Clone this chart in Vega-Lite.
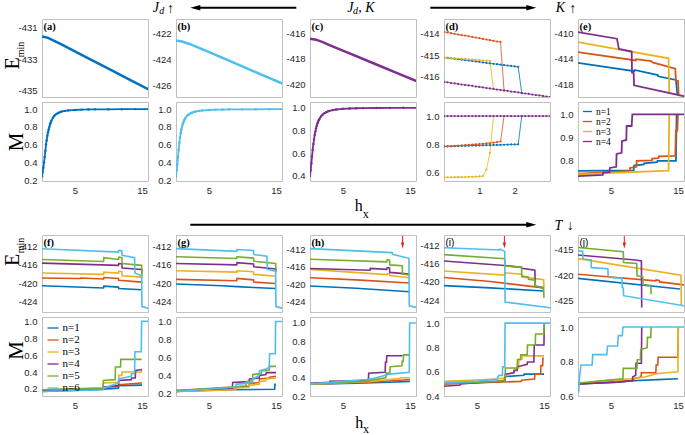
{
"$schema":"https://vega.github.io/schema/vega-lite/v6.json",
"padding":0,
"background":"white",
"columns":5,
"spacing":{"row":5,"column":28},
"bounds":"flush",
"align":"each",
"resolve":{"scale":{"x":"independent","y":"independent","color":"independent"},"axis":{"x":"independent","y":"independent"},"legend":{"color":"independent"}},
"config":{
 "locale":{"number":{"decimal":".","thousands":",","grouping":[3],"currency":["$",""],"minus":"-"}},
 "view":{"stroke":"#c0c0c0","strokeWidth":1},
 "axis":{"grid":false,"domain":false,"ticks":false,"labelFont":"Liberation Sans","labelFontSize":9.5,"labelColor":"#262626","labelPadding":4,"labelFlush":false,"labelOverlap":false,"titleFont":"Liberation Serif","titleFontWeight":"normal","titleColor":"#000000"},
 "axisY":{"labelPadding":5},
 "range":{"category":["#0072BD","#D95319","#EDB120","#7E2F8E","#77AC30","#4DBEEE"]},
 "text":{"font":"Liberation Serif","color":"#000000"}
},
"datasets":{
"aE":[{"x":0.1,"y":-431.55},{"x":1,"y":-431.65},{"x":2,"y":-431.85},{"x":3,"y":-432.07},{"x":6,"y":-432.73},{"x":10,"y":-433.62},{"x":13,"y":-434.29},{"x":16,"y":-434.95}],
"bE":[{"x":0.1,"y":-422.55},{"x":1,"y":-422.63},{"x":2,"y":-422.8},{"x":3,"y":-423.0},{"x":6,"y":-423.66},{"x":10,"y":-424.55},{"x":13,"y":-425.22},{"x":16,"y":-425.88}],
"cE":[{"x":0.1,"y":-416.42},{"x":1,"y":-416.5},{"x":2,"y":-416.7},{"x":3,"y":-416.93},{"x":6,"y":-417.58},{"x":10,"y":-418.45},{"x":13,"y":-419.1},{"x":16,"y":-419.76}],
"aM":[{"x":0.1,"y":0.24},{"x":0.2,"y":0.29},{"x":0.3,"y":0.34},{"x":0.4,"y":0.40},{"x":0.5,"y":0.46},{"x":0.6,"y":0.53},{"x":0.7,"y":0.60},{"x":0.8,"y":0.65},{"x":0.9,"y":0.70},{"x":1.0,"y":0.74},{"x":1.1,"y":0.77},{"x":1.2,"y":0.80},{"x":1.3,"y":0.83},{"x":1.4,"y":0.85},{"x":1.5,"y":0.87},{"x":1.75,"y":0.905},{"x":2.0,"y":0.93},{"x":2.25,"y":0.945},{"x":2.5,"y":0.955},{"x":2.75,"y":0.965},{"x":3,"y":0.972},{"x":3.5,"y":0.98},{"x":4,"y":0.985},{"x":5,"y":0.99},{"x":6,"y":0.994},{"x":7,"y":0.996},{"x":8,"y":0.997},{"x":10,"y":0.998},{"x":12,"y":0.999},{"x":14,"y":1.0},{"x":16,"y":1.0}],
"bM":[{"x":0.1,"y":0.24},{"x":0.2,"y":0.31},{"x":0.3,"y":0.38},{"x":0.4,"y":0.46},{"x":0.5,"y":0.54},{"x":0.6,"y":0.62},{"x":0.7,"y":0.68},{"x":0.8,"y":0.73},{"x":0.9,"y":0.77},{"x":1.0,"y":0.80},{"x":1.1,"y":0.83},{"x":1.2,"y":0.85},{"x":1.3,"y":0.87},{"x":1.4,"y":0.885},{"x":1.5,"y":0.90},{"x":1.75,"y":0.925},{"x":2.0,"y":0.94},{"x":2.25,"y":0.952},{"x":2.5,"y":0.96},{"x":2.75,"y":0.967},{"x":3,"y":0.972},{"x":3.5,"y":0.979},{"x":4,"y":0.984},{"x":5,"y":0.99},{"x":6,"y":0.993},{"x":7,"y":0.995},{"x":8,"y":0.996},{"x":10,"y":0.997},{"x":12,"y":0.998},{"x":14,"y":0.999},{"x":16,"y":0.999}],
"cM":[{"x":0.1,"y":0.40},{"x":0.2,"y":0.45},{"x":0.3,"y":0.51},{"x":0.4,"y":0.57},{"x":0.5,"y":0.63},{"x":0.6,"y":0.68},{"x":0.7,"y":0.72},{"x":0.8,"y":0.76},{"x":0.9,"y":0.79},{"x":1.0,"y":0.82},{"x":1.1,"y":0.84},{"x":1.2,"y":0.86},{"x":1.3,"y":0.875},{"x":1.4,"y":0.89},{"x":1.5,"y":0.90},{"x":1.75,"y":0.925},{"x":2.0,"y":0.94},{"x":2.25,"y":0.952},{"x":2.5,"y":0.96},{"x":2.75,"y":0.967},{"x":3,"y":0.972},{"x":3.5,"y":0.979},{"x":4,"y":0.984},{"x":5,"y":0.99},{"x":6,"y":0.993},{"x":7,"y":0.995},{"x":8,"y":0.996},{"x":10,"y":0.997},{"x":12,"y":0.998},{"x":14,"y":0.999},{"x":16,"y":0.999}],
"dE":[
{"x":0,"y":-415.11,"n":1},{"x":0.1,"y":-415.13,"n":1},{"x":0.2,"y":-415.15,"n":1},{"x":0.3,"y":-415.17,"n":1},{"x":0.4,"y":-415.19,"n":1},{"x":0.5,"y":-415.21,"n":1},{"x":0.6,"y":-415.23,"n":1},{"x":0.7,"y":-415.25,"n":1},{"x":0.8,"y":-415.27,"n":1},{"x":0.9,"y":-415.29,"n":1},{"x":1.0,"y":-415.31,"n":1},{"x":1.1,"y":-415.34,"n":1},{"x":1.2,"y":-415.36,"n":1},{"x":1.3,"y":-415.38,"n":1},{"x":1.4,"y":-415.40,"n":1},{"x":1.5,"y":-415.42,"n":1},{"x":1.6,"y":-415.44,"n":1},{"x":1.7,"y":-415.46,"n":1},{"x":1.8,"y":-415.48,"n":1},{"x":1.9,"y":-415.5,"n":1},{"x":2.0,"y":-415.52,"n":1},{"x":2.1,"y":-415.54,"n":1},{"x":2.2,"y":-416.74,"n":1},
{"x":0,"y":-413.94,"n":2},{"x":0.1,"y":-413.97,"n":2},{"x":0.2,"y":-414.0,"n":2},{"x":0.3,"y":-414.03,"n":2},{"x":0.4,"y":-414.06,"n":2},{"x":0.5,"y":-414.09,"n":2},{"x":0.6,"y":-414.11,"n":2},{"x":0.7,"y":-414.14,"n":2},{"x":0.8,"y":-414.17,"n":2},{"x":0.9,"y":-414.2,"n":2},{"x":1.0,"y":-414.23,"n":2},{"x":1.1,"y":-414.26,"n":2},{"x":1.2,"y":-414.29,"n":2},{"x":1.3,"y":-414.32,"n":2},{"x":1.4,"y":-414.35,"n":2},{"x":1.5,"y":-414.38,"n":2},{"x":1.6,"y":-414.4,"n":2},{"x":1.7,"y":-416.62,"n":2},
{"x":0,"y":-415.11,"n":3},{"x":0.1,"y":-415.12,"n":3},{"x":0.2,"y":-415.13,"n":3},{"x":0.3,"y":-415.15,"n":3},{"x":0.4,"y":-415.16,"n":3},{"x":0.5,"y":-415.17,"n":3},{"x":0.6,"y":-415.18,"n":3},{"x":0.7,"y":-415.2,"n":3},{"x":0.8,"y":-415.21,"n":3},{"x":0.9,"y":-415.22,"n":3},{"x":1.0,"y":-415.23,"n":3},{"x":1.1,"y":-415.25,"n":3},{"x":1.2,"y":-415.26,"n":3},{"x":1.3,"y":-415.27,"n":3},{"x":1.4,"y":-416.55,"n":3},
{"x":0,"y":-416.23,"n":4},{"x":0.1,"y":-416.25,"n":4},{"x":0.2,"y":-416.28,"n":4},{"x":0.3,"y":-416.3,"n":4},{"x":0.4,"y":-416.32,"n":4},{"x":0.5,"y":-416.35,"n":4},{"x":0.6,"y":-416.37,"n":4},{"x":0.7,"y":-416.39,"n":4},{"x":0.8,"y":-416.41,"n":4},{"x":0.9,"y":-416.44,"n":4},{"x":1.0,"y":-416.46,"n":4},{"x":1.1,"y":-416.48,"n":4},{"x":1.2,"y":-416.51,"n":4},{"x":1.3,"y":-416.53,"n":4},{"x":1.4,"y":-416.55,"n":4},{"x":1.5,"y":-416.58,"n":4},{"x":1.6,"y":-416.6,"n":4},{"x":1.7,"y":-416.62,"n":4},{"x":1.8,"y":-416.64,"n":4},{"x":1.9,"y":-416.67,"n":4},{"x":2.0,"y":-416.69,"n":4},{"x":2.1,"y":-416.71,"n":4},{"x":2.2,"y":-416.74,"n":4},{"x":2.3,"y":-416.76,"n":4},{"x":2.4,"y":-416.78,"n":4},{"x":2.5,"y":-416.81,"n":4},{"x":2.6,"y":-416.83,"n":4},{"x":2.7,"y":-416.85,"n":4},{"x":2.8,"y":-416.87,"n":4},{"x":2.9,"y":-416.9,"n":4},{"x":3.0,"y":-416.92,"n":4}],
"dM":[
{"x":0,"y":0.785,"n":1},{"x":0.1,"y":0.786,"n":1},{"x":0.2,"y":0.786,"n":1},{"x":0.3,"y":0.787,"n":1},{"x":0.4,"y":0.788,"n":1},{"x":0.5,"y":0.789,"n":1},{"x":0.6,"y":0.789,"n":1},{"x":0.7,"y":0.79,"n":1},{"x":0.8,"y":0.791,"n":1},{"x":0.9,"y":0.791,"n":1},{"x":1.0,"y":0.792,"n":1},{"x":1.1,"y":0.793,"n":1},{"x":1.2,"y":0.794,"n":1},{"x":1.3,"y":0.794,"n":1},{"x":1.4,"y":0.795,"n":1},{"x":1.5,"y":0.796,"n":1},{"x":1.6,"y":0.796,"n":1},{"x":1.7,"y":0.797,"n":1},{"x":1.8,"y":0.798,"n":1},{"x":1.9,"y":0.799,"n":1},{"x":2.0,"y":0.799,"n":1},{"x":2.1,"y":0.80,"n":1},{"x":2.2,"y":1.0,"n":1},
{"x":0,"y":0.785,"n":2},{"x":0.1,"y":0.786,"n":2},{"x":0.2,"y":0.787,"n":2},{"x":0.3,"y":0.789,"n":2},{"x":0.4,"y":0.79,"n":2},{"x":0.5,"y":0.792,"n":2},{"x":0.6,"y":0.794,"n":2},{"x":0.7,"y":0.796,"n":2},{"x":0.8,"y":0.798,"n":2},{"x":0.9,"y":0.80,"n":2},{"x":1.0,"y":0.802,"n":2},{"x":1.1,"y":0.804,"n":2},{"x":1.2,"y":0.806,"n":2},{"x":1.3,"y":0.809,"n":2},{"x":1.4,"y":0.812,"n":2},{"x":1.5,"y":0.816,"n":2},{"x":1.6,"y":0.82,"n":2},{"x":1.7,"y":1.0,"n":2},
{"x":0,"y":0.565,"n":3},{"x":0.1,"y":0.566,"n":3},{"x":0.2,"y":0.566,"n":3},{"x":0.3,"y":0.567,"n":3},{"x":0.4,"y":0.567,"n":3},{"x":0.5,"y":0.568,"n":3},{"x":0.6,"y":0.568,"n":3},{"x":0.7,"y":0.569,"n":3},{"x":0.8,"y":0.57,"n":3},{"x":0.9,"y":0.571,"n":3},{"x":1.0,"y":0.572,"n":3},{"x":1.1,"y":0.575,"n":3},{"x":1.2,"y":0.62,"n":3},{"x":1.3,"y":0.74,"n":3},{"x":1.4,"y":1.0,"n":3},
{"x":0,"y":1,"n":4},{"x":0.1,"y":1,"n":4},{"x":0.2,"y":1,"n":4},{"x":0.3,"y":1,"n":4},{"x":0.4,"y":1,"n":4},{"x":0.5,"y":1,"n":4},{"x":0.6,"y":1,"n":4},{"x":0.7,"y":1,"n":4},{"x":0.8,"y":1,"n":4},{"x":0.9,"y":1,"n":4},{"x":1.0,"y":1,"n":4},{"x":1.1,"y":1,"n":4},{"x":1.2,"y":1,"n":4},{"x":1.3,"y":1,"n":4},{"x":1.4,"y":1,"n":4},{"x":1.5,"y":1,"n":4},{"x":1.6,"y":1,"n":4},{"x":1.7,"y":1,"n":4},{"x":1.8,"y":1,"n":4},{"x":1.9,"y":1,"n":4},{"x":2.0,"y":1,"n":4},{"x":2.1,"y":1,"n":4},{"x":2.2,"y":1,"n":4},{"x":2.3,"y":1,"n":4},{"x":2.4,"y":1,"n":4},{"x":2.5,"y":1,"n":4},{"x":2.6,"y":1,"n":4},{"x":2.7,"y":1,"n":4},{"x":2.8,"y":1,"n":4},{"x":2.9,"y":1,"n":4},{"x":3.0,"y":1,"n":4}],
"eE":[
{"x":0,"y":-414.66,"n":1},{"x":8.5,"y":-416.0,"n":1},{"x":8.55,"y":-415.8,"n":1},{"x":12,"y":-416.6,"n":1},{"x":12.05,"y":-416.8,"n":1},{"x":14.7,"y":-417.37,"n":1},{"x":14.9,"y":-419.6,"n":1},
{"x":0,"y":-412.98,"n":2},{"x":8.7,"y":-414.3,"n":2},{"x":8.75,"y":-414.1,"n":2},{"x":11,"y":-414.4,"n":2},{"x":11.2,"y":-414.6,"n":2},{"x":14.6,"y":-415.6,"n":2},{"x":14.7,"y":-417.5,"n":2},{"x":15,"y":-417.5,"n":2},{"x":15.1,"y":-419.6,"n":2},
{"x":0,"y":-411.41,"n":3},{"x":13.6,"y":-413.97,"n":3},{"x":13.7,"y":-419.5,"n":3},
{"x":0,"y":-409.84,"n":4},{"x":5.9,"y":-410.89,"n":4},{"x":6.2,"y":-412.5,"n":4},{"x":8.1,"y":-412.9,"n":4},{"x":8.15,"y":-416.2,"n":4},{"x":8.4,"y":-416.3,"n":4},{"x":8.45,"y":-418.2,"n":4},{"x":16,"y":-419.95,"n":4}],
"eM":[
{"x":0,"y":0.757,"n":1},{"x":8.4,"y":0.76,"n":1},{"x":8.45,"y":0.78,"n":1},{"x":9.9,"y":0.785,"n":1},{"x":9.95,"y":0.79,"n":1},{"x":11.9,"y":0.795,"n":1},{"x":11.95,"y":0.80,"n":1},{"x":14.7,"y":0.80,"n":1},{"x":14.8,"y":1.0,"n":1},
{"x":0,"y":0.745,"n":2},{"x":5,"y":0.752,"n":2},{"x":7.8,"y":0.757,"n":2},{"x":7.85,"y":0.77,"n":2},{"x":8.8,"y":0.775,"n":2},{"x":8.85,"y":0.80,"n":2},{"x":11.1,"y":0.802,"n":2},{"x":11.15,"y":0.81,"n":2},{"x":12.1,"y":0.812,"n":2},{"x":12.15,"y":0.82,"n":2},{"x":14.6,"y":0.822,"n":2},{"x":14.7,"y":0.93,"n":2},{"x":14.9,"y":0.93,"n":2},{"x":15,"y":1.0,"n":2},
{"x":0,"y":0.742,"n":3},{"x":13.6,"y":0.758,"n":3},{"x":13.7,"y":1.0,"n":3},
{"x":0,"y":0.735,"n":4},{"x":3.8,"y":0.74,"n":4},{"x":3.85,"y":0.75,"n":4},{"x":4.8,"y":0.752,"n":4},{"x":4.85,"y":0.77,"n":4},{"x":5.8,"y":0.775,"n":4},{"x":5.85,"y":0.83,"n":4},{"x":6.6,"y":0.835,"n":4},{"x":6.65,"y":0.885,"n":4},{"x":7.3,"y":0.89,"n":4},{"x":7.35,"y":0.95,"n":4},{"x":8.1,"y":0.95,"n":4},{"x":8.2,"y":1.0,"n":4},{"x":16,"y":1.0,"n":4}],
"fE":[
{"x":0,"y":-420.6,"n":1},{"x":9.27,"y":-421.1,"n":1},{"x":9.32,"y":-420.7,"n":1},{"x":11.5,"y":-420.9,"n":1},{"x":11.55,"y":-421.2,"n":1},{"x":14.95,"y":-421.5,"n":1},
{"x":0,"y":-418.9,"n":2},{"x":5.8,"y":-419.0,"n":2},{"x":5.85,"y":-418.9,"n":2},{"x":9.27,"y":-419.1,"n":2},{"x":9.32,"y":-418.8,"n":2},{"x":11.5,"y":-419.0,"n":2},{"x":11.55,"y":-419.4,"n":2},{"x":14.95,"y":-419.8,"n":2},{"x":15,"y":-420.1,"n":2},
{"x":0,"y":-417.8,"n":3},{"x":9.27,"y":-418.1,"n":3},{"x":9.32,"y":-417.6,"n":3},{"x":11.5,"y":-417.8,"n":3},{"x":11.55,"y":-417.4,"n":3},{"x":12,"y":-417.45,"n":3},{"x":12.05,"y":-418.4,"n":3},{"x":14.95,"y":-418.7,"n":3},{"x":15,"y":-419.0,"n":3},
{"x":0,"y":-415.6,"n":4},{"x":11.5,"y":-416.1,"n":4},{"x":11.55,"y":-415.7,"n":4},{"x":12,"y":-415.75,"n":4},{"x":12.05,"y":-416.7,"n":4},{"x":14.95,"y":-417.0,"n":4},{"x":15,"y":-417.8,"n":4},
{"x":0,"y":-414.8,"n":5},{"x":9.27,"y":-415.25,"n":5},{"x":9.32,"y":-414.4,"n":5},{"x":11.5,"y":-414.8,"n":5},{"x":11.55,"y":-414.3,"n":5},{"x":12,"y":-414.4,"n":5},{"x":12.05,"y":-415.7,"n":5},{"x":14.95,"y":-416.1,"n":5},{"x":15,"y":-418.5,"n":5},
{"x":0,"y":-412.44,"n":6},{"x":11.5,"y":-413.18,"n":6},{"x":11.55,"y":-412.8,"n":6},{"x":12,"y":-412.85,"n":6},{"x":12.05,"y":-413.9,"n":6},{"x":13.9,"y":-414.4,"n":6},{"x":13.95,"y":-417.8,"n":6},{"x":14.95,"y":-418.4,"n":6},{"x":15,"y":-425.2,"n":6},{"x":16,"y":-425.6,"n":6}],
"gE":[
{"x":0,"y":-420.2,"n":1},{"x":7,"y":-420.6,"n":1},{"x":9.2,"y":-420.8,"n":1},{"x":11.7,"y":-421.0,"n":1},{"x":14.95,"y":-421.2,"n":1},
{"x":0,"y":-419.2,"n":2},{"x":9.15,"y":-419.5,"n":2},{"x":9.2,"y":-419.0,"n":2},{"x":11.65,"y":-419.3,"n":2},{"x":11.7,"y":-419.8,"n":2},{"x":14.95,"y":-420.1,"n":2},
{"x":0,"y":-417.3,"n":3},{"x":9.15,"y":-417.6,"n":3},{"x":9.2,"y":-417.3,"n":3},{"x":11.65,"y":-417.5,"n":3},{"x":11.7,"y":-418.1,"n":3},{"x":14.95,"y":-418.5,"n":3},
{"x":0,"y":-415.7,"n":4},{"x":9.15,"y":-416.0,"n":4},{"x":9.2,"y":-415.5,"n":4},{"x":11.65,"y":-415.8,"n":4},{"x":11.7,"y":-416.4,"n":4},{"x":14.95,"y":-416.9,"n":4},{"x":15,"y":-417.5,"n":4},
{"x":0,"y":-414.2,"n":5},{"x":9.15,"y":-414.6,"n":5},{"x":9.2,"y":-414.2,"n":5},{"x":11.65,"y":-414.5,"n":5},{"x":11.7,"y":-415.2,"n":5},{"x":14.95,"y":-415.7,"n":5},{"x":15,"y":-417.5,"n":5},
{"x":0,"y":-412.4,"n":6},{"x":9.15,"y":-413.0,"n":6},{"x":9.2,"y":-412.6,"n":6},{"x":11.65,"y":-412.8,"n":6},{"x":11.7,"y":-413.7,"n":6},{"x":13.65,"y":-414.1,"n":6},{"x":13.7,"y":-417.0,"n":6},{"x":14.95,"y":-417.4,"n":6},{"x":15,"y":-425.2,"n":6},{"x":16,"y":-425.6,"n":6}],
"hE":[
{"x":0,"y":-420.4,"n":1},{"x":7,"y":-420.9,"n":1},{"x":14.9,"y":-421.7,"n":1},
{"x":0,"y":-418.5,"n":2},{"x":7,"y":-419.0,"n":2},{"x":14.9,"y":-419.7,"n":2},
{"x":0,"y":-416.6,"n":3},{"x":11.55,"y":-417.8,"n":3},{"x":11.6,"y":-417.6,"n":3},{"x":11.95,"y":-417.7,"n":3},{"x":12,"y":-418.0,"n":3},{"x":14.9,"y":-418.5,"n":3},
{"x":0,"y":-416.4,"n":4},{"x":9.05,"y":-416.8,"n":4},{"x":9.1,"y":-416.4,"n":4},{"x":11.55,"y":-416.6,"n":4},{"x":11.6,"y":-416.2,"n":4},{"x":11.95,"y":-416.3,"n":4},{"x":12,"y":-417.3,"n":4},{"x":14.9,"y":-417.7,"n":4},
{"x":0,"y":-414.3,"n":5},{"x":11.55,"y":-414.9,"n":5},{"x":11.6,"y":-414.4,"n":5},{"x":11.95,"y":-414.5,"n":5},{"x":12,"y":-415.6,"n":5},{"x":13.85,"y":-415.8,"n":5},{"x":13.9,"y":-417.7,"n":5},{"x":14.9,"y":-417.9,"n":5},
{"x":0,"y":-411.9,"n":6},{"x":12.35,"y":-412.8,"n":6},{"x":12.4,"y":-413.2,"n":6},{"x":14.85,"y":-414.1,"n":6},{"x":14.9,"y":-424.9,"n":6},{"x":16,"y":-425.3,"n":6}],
"iE":[
{"x":0,"y":-420.8,"n":1},{"x":7,"y":-421.3,"n":1},{"x":14.95,"y":-422.0,"n":1},
{"x":0,"y":-419.0,"n":2},{"x":7,"y":-419.9,"n":2},{"x":14.95,"y":-421.3,"n":2},
{"x":0,"y":-417.6,"n":3},{"x":9.15,"y":-418.5,"n":3},{"x":9.2,"y":-418.0,"n":3},{"x":11.65,"y":-418.3,"n":3},{"x":11.7,"y":-418.9,"n":3},{"x":14.95,"y":-419.5,"n":3},{"x":15,"y":-421.1,"n":3},
{"x":0,"y":-415.4,"n":4},{"x":9.15,"y":-416.4,"n":4},{"x":11.65,"y":-416.8,"n":4},{"x":11.7,"y":-417.0,"n":4},{"x":13.65,"y":-417.4,"n":4},{"x":13.7,"y":-420.9,"n":4},{"x":14.95,"y":-421.3,"n":4},
{"x":0,"y":-414.0,"n":5},{"x":9.15,"y":-414.9,"n":5},{"x":9.2,"y":-416.5,"n":5},{"x":11.65,"y":-416.8,"n":5},{"x":11.7,"y":-418.7,"n":5},{"x":12.65,"y":-418.9,"n":5},{"x":12.7,"y":-419.4,"n":5},{"x":13.65,"y":-419.6,"n":5},{"x":13.7,"y":-420.9,"n":5},{"x":14.95,"y":-421.3,"n":5},{"x":15,"y":-423.5,"n":5},
{"x":0,"y":-412.5,"n":6},{"x":8.4,"y":-413.0,"n":6},{"x":8.45,"y":-412.8,"n":6},{"x":9.15,"y":-413.3,"n":6},{"x":9.2,"y":-424.4,"n":6},{"x":16,"y":-425.7,"n":6}],
"jE":[
{"x":0,"y":-420.6,"n":1},{"x":15.3,"y":-422.7,"n":1},
{"x":0,"y":-419.8,"n":2},{"x":11.7,"y":-421.1,"n":2},{"x":11.75,"y":-420.9,"n":2},{"x":12.2,"y":-421.0,"n":2},{"x":12.25,"y":-421.3,"n":2},{"x":16,"y":-421.9,"n":2},
{"x":0,"y":-416.7,"n":3},{"x":15.45,"y":-420.0,"n":3},{"x":15.5,"y":-426.0,"n":3},
{"x":0,"y":-416.0,"n":4},{"x":8.65,"y":-417.0,"n":4},{"x":9.55,"y":-417.2,"n":4},{"x":9.6,"y":-426.3,"n":4},
{"x":0,"y":-414.55,"n":5},{"x":6.85,"y":-415.4,"n":5},{"x":6.9,"y":-417.5,"n":5},{"x":8.85,"y":-417.7,"n":5},{"x":8.9,"y":-420.1,"n":5},{"x":9.75,"y":-420.3,"n":5},{"x":9.8,"y":-421.8,"n":5},{"x":10.95,"y":-422.0,"n":5},{"x":11,"y":-423.7,"n":5},
{"x":0,"y":-415.2,"n":6},{"x":0.8,"y":-415.3,"n":6},{"x":0.85,"y":-416.8,"n":6},{"x":2.05,"y":-417.0,"n":6},{"x":2.1,"y":-418.5,"n":6},{"x":4.55,"y":-418.7,"n":6},{"x":4.6,"y":-420.4,"n":6},{"x":6.65,"y":-420.6,"n":6},{"x":6.7,"y":-422.4,"n":6},{"x":6.85,"y":-422.5,"n":6},{"x":6.9,"y":-424.0,"n":6},{"x":16,"y":-426.0,"n":6}],
"fM":[
{"x":0,"y":0.17,"n":1},{"x":8,"y":0.19,"n":1},{"x":11.5,"y":0.21,"n":1},{"x":11.55,"y":0.24,"n":1},{"x":15,"y":0.245,"n":1},
{"x":0,"y":0.18,"n":2},{"x":9.2,"y":0.2,"n":2},{"x":9.25,"y":0.22,"n":2},{"x":11.5,"y":0.23,"n":2},{"x":11.55,"y":0.25,"n":2},{"x":14.9,"y":0.27,"n":2},{"x":15,"y":0.27,"n":2},
{"x":0,"y":0.19,"n":3},{"x":9.2,"y":0.21,"n":3},{"x":9.25,"y":0.27,"n":3},{"x":11.5,"y":0.28,"n":3},{"x":11.55,"y":0.36,"n":3},{"x":12,"y":0.36,"n":3},{"x":12.05,"y":0.40,"n":3},{"x":14.9,"y":0.40,"n":3},{"x":15,"y":0.42,"n":3},
{"x":0,"y":0.18,"n":4},{"x":9.2,"y":0.2,"n":4},{"x":9.25,"y":0.22,"n":4},{"x":11.5,"y":0.24,"n":4},{"x":11.55,"y":0.30,"n":4},{"x":13.4,"y":0.31,"n":4},{"x":13.45,"y":0.33,"n":4},{"x":14,"y":0.33,"n":4},{"x":14.05,"y":0.42,"n":4},{"x":15,"y":0.43,"n":4},
{"x":0,"y":0.19,"n":5},{"x":9.2,"y":0.21,"n":5},{"x":9.25,"y":0.30,"n":5},{"x":11,"y":0.31,"n":5},{"x":11.05,"y":0.46,"n":5},{"x":11.8,"y":0.46,"n":5},{"x":11.85,"y":0.55,"n":5},{"x":14.95,"y":0.55,"n":5},
{"x":0,"y":0.17,"n":6},{"x":9.2,"y":0.19,"n":6},{"x":9.25,"y":0.21,"n":6},{"x":11.5,"y":0.27,"n":6},{"x":11.55,"y":0.32,"n":6},{"x":13.4,"y":0.35,"n":6},{"x":13.45,"y":0.38,"n":6},{"x":13.9,"y":0.38,"n":6},{"x":13.95,"y":0.64,"n":6},{"x":14.9,"y":0.64,"n":6},{"x":14.95,"y":1.0,"n":6},{"x":16,"y":1.0,"n":6}],
"gM":[
{"x":0,"y":0.22,"n":1},{"x":8,"y":0.24,"n":1},{"x":14.8,"y":0.245,"n":1},{"x":14.85,"y":0.30,"n":1},{"x":15,"y":0.30,"n":1},
{"x":0,"y":0.22,"n":2},{"x":9,"y":0.25,"n":2},{"x":9.05,"y":0.27,"n":2},{"x":11,"y":0.28,"n":2},{"x":11.05,"y":0.31,"n":2},{"x":12.5,"y":0.32,"n":2},{"x":12.55,"y":0.36,"n":2},{"x":14,"y":0.37,"n":2},{"x":14.05,"y":0.38,"n":2},{"x":15,"y":0.39,"n":2},
{"x":0,"y":0.22,"n":3},{"x":9,"y":0.24,"n":3},{"x":9.05,"y":0.26,"n":3},{"x":11,"y":0.27,"n":3},{"x":11.05,"y":0.29,"n":3},{"x":12.5,"y":0.30,"n":3},{"x":12.55,"y":0.33,"n":3},{"x":13.5,"y":0.34,"n":3},{"x":13.55,"y":0.36,"n":3},{"x":15,"y":0.37,"n":3},
{"x":0,"y":0.23,"n":4},{"x":8.5,"y":0.26,"n":4},{"x":8.55,"y":0.32,"n":4},{"x":11,"y":0.33,"n":4},{"x":11.05,"y":0.36,"n":4},{"x":12.5,"y":0.37,"n":4},{"x":12.55,"y":0.40,"n":4},{"x":13.5,"y":0.41,"n":4},{"x":13.55,"y":0.43,"n":4},{"x":15,"y":0.43,"n":4},
{"x":0,"y":0.23,"n":5},{"x":10.5,"y":0.28,"n":5},{"x":10.55,"y":0.33,"n":5},{"x":11.5,"y":0.34,"n":5},{"x":11.55,"y":0.41,"n":5},{"x":12.8,"y":0.42,"n":5},{"x":12.85,"y":0.45,"n":5},{"x":14,"y":0.46,"n":5},{"x":14.05,"y":0.50,"n":5},{"x":15,"y":0.50,"n":5},
{"x":0,"y":0.22,"n":6},{"x":9,"y":0.27,"n":6},{"x":9.05,"y":0.30,"n":6},{"x":11.5,"y":0.32,"n":6},{"x":11.55,"y":0.36,"n":6},{"x":12.5,"y":0.40,"n":6},{"x":12.55,"y":0.45,"n":6},{"x":13.5,"y":0.47,"n":6},{"x":14,"y":0.49,"n":6},{"x":14.05,"y":0.64,"n":6},{"x":14.9,"y":0.64,"n":6},{"x":14.95,"y":1.0,"n":6},{"x":16,"y":1.0,"n":6}],
"hM":[
{"x":0,"y":0.33,"n":1},{"x":7,"y":0.34,"n":1},{"x":12,"y":0.35,"n":1},{"x":15,"y":0.36,"n":1},
{"x":0,"y":0.33,"n":2},{"x":9,"y":0.35,"n":2},{"x":13,"y":0.37,"n":2},{"x":15,"y":0.38,"n":2},
{"x":0,"y":0.33,"n":3},{"x":9,"y":0.36,"n":3},{"x":12,"y":0.38,"n":3},{"x":13.5,"y":0.39,"n":3},{"x":13.55,"y":0.40,"n":3},{"x":15,"y":0.40,"n":3},
{"x":0,"y":0.34,"n":4},{"x":3,"y":0.35,"n":4},{"x":3.05,"y":0.36,"n":4},{"x":8.8,"y":0.37,"n":4},{"x":8.85,"y":0.45,"n":4},{"x":11.3,"y":0.46,"n":4},{"x":11.35,"y":0.57,"n":4},{"x":11.5,"y":0.57,"n":4},{"x":11.55,"y":0.64,"n":4},{"x":13.9,"y":0.64,"n":4},
{"x":0,"y":0.33,"n":5},{"x":8,"y":0.36,"n":5},{"x":11.4,"y":0.40,"n":5},{"x":11.45,"y":0.45,"n":5},{"x":12,"y":0.45,"n":5},{"x":12.05,"y":0.52,"n":5},{"x":13.8,"y":0.53,"n":5},{"x":13.85,"y":0.58,"n":5},{"x":14,"y":0.58,"n":5},{"x":14.05,"y":0.65,"n":5},{"x":14.9,"y":0.65,"n":5},
{"x":0,"y":0.33,"n":6},{"x":5,"y":0.36,"n":6},{"x":8.5,"y":0.38,"n":6},{"x":10,"y":0.40,"n":6},{"x":12,"y":0.44,"n":6},{"x":14.9,"y":0.46,"n":6},{"x":14.95,"y":1.0,"n":6},{"x":16,"y":1.0,"n":6}],
"iM":[
{"x":0,"y":0.50,"n":1},{"x":8,"y":0.52,"n":1},{"x":9.2,"y":0.53,"n":1},{"x":9.25,"y":0.56,"n":1},{"x":12,"y":0.57,"n":1},{"x":12.05,"y":0.58,"n":1},{"x":15,"y":0.58,"n":1},
{"x":0,"y":0.50,"n":2},{"x":11.6,"y":0.52,"n":2},{"x":11.65,"y":0.53,"n":2},{"x":13.6,"y":0.54,"n":2},{"x":13.65,"y":0.58,"n":2},{"x":14.5,"y":0.58,"n":2},{"x":14.55,"y":0.65,"n":2},{"x":14.8,"y":0.65,"n":2},{"x":14.85,"y":0.71,"n":2},{"x":15,"y":0.71,"n":2},
{"x":0,"y":0.52,"n":3},{"x":4,"y":0.53,"n":3},{"x":8,"y":0.54,"n":3},{"x":9.3,"y":0.55,"n":3},{"x":9.35,"y":0.58,"n":3},{"x":10.5,"y":0.59,"n":3},{"x":10.55,"y":0.62,"n":3},{"x":11.2,"y":0.63,"n":3},{"x":11.25,"y":0.70,"n":3},{"x":11.7,"y":0.70,"n":3},{"x":11.75,"y":0.73,"n":3},{"x":15,"y":0.73,"n":3},
{"x":0,"y":0.48,"n":4},{"x":2.5,"y":0.49,"n":4},{"x":2.55,"y":0.50,"n":4},{"x":5,"y":0.51,"n":4},{"x":8.5,"y":0.52,"n":4},{"x":9.2,"y":0.53,"n":4},{"x":9.25,"y":0.58,"n":4},{"x":10.5,"y":0.59,"n":4},{"x":10.55,"y":0.61,"n":4},{"x":11,"y":0.61,"n":4},{"x":11.05,"y":0.64,"n":4},{"x":12.5,"y":0.66,"n":4},{"x":12.55,"y":0.68,"n":4},{"x":13.5,"y":0.68,"n":4},{"x":13.55,"y":0.82,"n":4},{"x":15,"y":0.82,"n":4},{"x":15.05,"y":1.0,"n":4},
{"x":0,"y":0.50,"n":5},{"x":8,"y":0.52,"n":5},{"x":9.2,"y":0.53,"n":5},{"x":9.25,"y":0.63,"n":5},{"x":11,"y":0.63,"n":5},{"x":11.05,"y":0.70,"n":5},{"x":11.5,"y":0.70,"n":5},{"x":11.55,"y":0.74,"n":5},{"x":12.5,"y":0.74,"n":5},{"x":12.55,"y":0.82,"n":5},{"x":13.7,"y":0.82,"n":5},{"x":13.75,"y":0.91,"n":5},{"x":15,"y":0.91,"n":5},{"x":15.05,"y":1.0,"n":5},
{"x":0,"y":0.51,"n":6},{"x":5,"y":0.52,"n":6},{"x":8,"y":0.54,"n":6},{"x":8.3,"y":0.57,"n":6},{"x":8.8,"y":0.57,"n":6},{"x":8.85,"y":0.64,"n":6},{"x":9.15,"y":0.64,"n":6},{"x":9.2,"y":1.0,"n":6},{"x":16,"y":1.0,"n":6}],
"jM":[
{"x":0,"y":0.67,"n":1},{"x":6,"y":0.68,"n":1},{"x":9,"y":0.69,"n":1},{"x":12,"y":0.695,"n":1},{"x":15,"y":0.70,"n":1},
{"x":0,"y":0.67,"n":2},{"x":6,"y":0.685,"n":2},{"x":8.4,"y":0.69,"n":2},{"x":8.45,"y":0.70,"n":2},{"x":9.5,"y":0.71,"n":2},{"x":9.55,"y":0.735,"n":2},{"x":11.7,"y":0.735,"n":2},{"x":11.75,"y":0.78,"n":2},{"x":12,"y":0.78,"n":2},{"x":12.05,"y":0.825,"n":2},{"x":15,"y":0.825,"n":2},{"x":15.05,"y":1.0,"n":2},
{"x":0,"y":0.67,"n":3},{"x":3,"y":0.685,"n":3},{"x":8,"y":0.70,"n":3},{"x":10,"y":0.71,"n":3},{"x":12,"y":0.73,"n":3},{"x":15,"y":0.74,"n":3},{"x":15.05,"y":1.0,"n":3},
{"x":0,"y":0.67,"n":4},{"x":6,"y":0.68,"n":4},{"x":8.2,"y":0.69,"n":4},{"x":8.25,"y":0.71,"n":4},{"x":8.7,"y":0.72,"n":4},{"x":8.75,"y":0.79,"n":4},{"x":9.55,"y":0.79,"n":4},{"x":9.6,"y":1.0,"n":4},
{"x":0,"y":0.675,"n":5},{"x":6.8,"y":0.70,"n":5},{"x":6.85,"y":0.76,"n":5},{"x":8.9,"y":0.76,"n":5},{"x":8.95,"y":0.81,"n":5},{"x":9.4,"y":0.81,"n":5},{"x":9.45,"y":0.87,"n":5},{"x":10.4,"y":0.88,"n":5},{"x":10.45,"y":0.94,"n":5},{"x":10.95,"y":0.94,"n":5},{"x":11,"y":1.0,"n":5},
{"x":0.2,"y":0.62,"n":6},{"x":0.35,"y":0.72,"n":6},{"x":0.55,"y":0.78,"n":6},{"x":2.2,"y":0.78,"n":6},{"x":2.3,"y":0.84,"n":6},{"x":4.4,"y":0.84,"n":6},{"x":4.5,"y":0.89,"n":6},{"x":6,"y":0.89,"n":6},{"x":6.1,"y":0.95,"n":6},{"x":6.7,"y":0.95,"n":6},{"x":6.8,"y":1.0,"n":6},{"x":16,"y":1.0,"n":6}]
},
"concat":[
{"width":106,"height":13,"view":{"stroke":null},"layer":[
 {"data":{"values":[{}]},"mark":{"type":"rule","strokeOpacity":0,"strokeWidth":0.1},"encoding":{"x":{"datum":-41.7,"type":"quantitative","scale":{"domain":[0,106],"nice":false,"zero":false},"axis":null},"x2":{"datum":-41},"y":{"datum":0,"type":"quantitative","scale":{"domain":[0,13],"nice":false,"zero":false,"reverse":true},"axis":null}}},
 {"data":{"values":[{}]},"mark":{"type":"text","text":"J","fontStyle":"italic","fontSize":14,"baseline":"alphabetic"},"encoding":{"x":{"datum":113.8,"axis":null},"y":{"datum":10.5,"axis":null}}},
 {"data":{"values":[{}]},"mark":{"type":"text","text":"d","fontStyle":"italic","fontSize":10,"baseline":"alphabetic"},"encoding":{"x":{"datum":119.8,"axis":null},"y":{"datum":12.5,"axis":null}}},
 {"data":{"values":[{}]},"mark":{"type":"text","text":"↑","fontSize":14,"baseline":"alphabetic"},"encoding":{"x":{"datum":128.6,"axis":null},"y":{"datum":11.5,"axis":null}}},
 {"data":{"values":[{}]},"mark":{"type":"rule","color":"#000000","strokeWidth":2},"encoding":{"x":{"datum":156,"axis":null},"x2":{"datum":254.3},"y":{"datum":6.7,"axis":null}}},
 {"data":{"values":[{}]},"mark":{"type":"point","shape":"M -1 0 L 1 -0.55 L 1 0.55 Z","filled":true,"color":"#000000","size":100,"opacity":1},"encoding":{"x":{"datum":153.3,"axis":null},"y":{"datum":6.7,"axis":null}}},
 {"data":{"values":[{}]},"mark":{"type":"text","text":"J","fontStyle":"italic","fontSize":14,"baseline":"alphabetic"},"encoding":{"x":{"datum":308.3,"axis":null},"y":{"datum":10.5,"axis":null}}},
 {"data":{"values":[{}]},"mark":{"type":"text","text":"d","fontStyle":"italic","fontSize":10,"baseline":"alphabetic"},"encoding":{"x":{"datum":313.6,"axis":null},"y":{"datum":12.5,"axis":null}}},
 {"data":{"values":[{}]},"mark":{"type":"text","text":", K","fontStyle":"italic","fontSize":14,"baseline":"alphabetic","align":"left"},"encoding":{"x":{"datum":316.3,"axis":null},"y":{"datum":10.5,"axis":null}}},
 {"data":{"values":[{}]},"mark":{"type":"rule","color":"#000000","strokeWidth":2},"encoding":{"x":{"datum":388.3,"axis":null},"x2":{"datum":486},"y":{"datum":6.7,"axis":null}}},
 {"data":{"values":[{}]},"mark":{"type":"point","shape":"M 1 0 L -1 -0.55 L -1 0.55 Z","filled":true,"color":"#000000","size":100,"opacity":1},"encoding":{"x":{"datum":489.3,"axis":null},"y":{"datum":6.7,"axis":null}}},
 {"data":{"values":[{}]},"mark":{"type":"text","text":"K","fontStyle":"italic","fontSize":14,"baseline":"alphabetic"},"encoding":{"x":{"datum":518.3,"axis":null},"y":{"datum":10.5,"axis":null}}},
 {"data":{"values":[{}]},"mark":{"type":"text","text":"↑","fontSize":14,"baseline":"alphabetic"},"encoding":{"x":{"datum":530.8,"axis":null},"y":{"datum":11.5,"axis":null}}},
 {"data":{"values":[{}]},"mark":{"type":"text","text":"E","fontSize":20,"angle":270,"baseline":"alphabetic","align":"center"},"encoding":{"x":{"datum":-23.4,"axis":null},"y":{"datum":62.5,"axis":null}}},
 {"data":{"values":[{}]},"mark":{"type":"text","text":"min","fontSize":10,"angle":270,"baseline":"alphabetic","align":"center"},"encoding":{"x":{"datum":-18.4,"axis":null},"y":{"datum":48.5,"axis":null}}},
 {"data":{"values":[{}]},"mark":{"type":"text","text":"(a)","fontWeight":"bold","fontSize":10.5,"align":"left","baseline":"top"},"encoding":{"x":{"datum":1.5,"axis":null},"y":{"datum":20.5,"axis":null}}},
 {"data":{"values":[{}]},"mark":{"type":"text","text":"(b)","fontWeight":"bold","fontSize":10.5,"align":"left","baseline":"top"},"encoding":{"x":{"datum":135.5,"axis":null},"y":{"datum":20.5,"axis":null}}},
 {"data":{"values":[{}]},"mark":{"type":"text","text":"(c)","fontWeight":"bold","fontSize":10.5,"align":"left","baseline":"top"},"encoding":{"x":{"datum":269.5,"axis":null},"y":{"datum":20.5,"axis":null}}},
 {"data":{"values":[{}]},"mark":{"type":"text","text":"(d)","fontWeight":"bold","fontSize":10.5,"align":"left","baseline":"top"},"encoding":{"x":{"datum":403.5,"axis":null},"y":{"datum":20.5,"axis":null}}},
 {"data":{"values":[{}]},"mark":{"type":"text","text":"(e)","fontWeight":"bold","fontSize":10.5,"align":"left","baseline":"top"},"encoding":{"x":{"datum":537.5,"axis":null},"y":{"datum":20.5,"axis":null}}}
]},
{"width":106,"height":13,"view":{"stroke":null},"data":{"values":[]},"mark":"point"},
{"width":106,"height":13,"view":{"stroke":null},"data":{"values":[]},"mark":"point"},
{"width":106,"height":13,"view":{"stroke":null},"data":{"values":[]},"mark":"point"},
{"width":106,"height":13,"view":{"stroke":null},"data":{"values":[]},"mark":"point"},

{"width":106,"height":78,"data":{"name":"aE"},"mark":{"type":"line","strokeWidth":2.5,"color":"#0072BD","clip":true},"encoding":{"x":{"field":"x","type":"quantitative","scale":{"domain":[0.1,15.9],"nice":false,"zero":false},"axis":null},"y":{"field":"y","type":"quantitative","scale":{"domain":[-435.43,-430.44],"nice":false,"zero":false},"axis":{"values":[-431,-433,-435],"format":"d","title":null}}}},
{"width":106,"height":78,"data":{"name":"bE"},"mark":{"type":"line","strokeWidth":2.5,"color":"#4DBEEE","clip":true},"encoding":{"x":{"field":"x","type":"quantitative","scale":{"domain":[0.1,15.9],"nice":false,"zero":false},"axis":null},"y":{"field":"y","type":"quantitative","scale":{"domain":[-426.9,-420.9],"nice":false,"zero":false},"axis":{"values":[-422,-424,-426],"format":"d","title":null}}}},
{"width":106,"height":78,"data":{"name":"cE"},"mark":{"type":"line","strokeWidth":2.5,"color":"#7E2F8E","clip":true},"encoding":{"x":{"field":"x","type":"quantitative","scale":{"domain":[0.1,15.9],"nice":false,"zero":false},"axis":null},"y":{"field":"y","type":"quantitative","scale":{"domain":[-421.0,-414.88],"nice":false,"zero":false},"axis":{"values":[-416,-418,-420],"format":"d","title":null}}}},
{"width":106,"height":78,"data":{"name":"dE"},"mark":{"type":"line","strokeWidth":0.8,"clip":true,"point":{"filled":true,"size":5}},"encoding":{"x":{"field":"x","type":"quantitative","scale":{"domain":[0,3],"nice":false,"zero":false},"axis":null},"y":{"field":"y","type":"quantitative","scale":{"domain":[-416.92,-413.35],"nice":false,"zero":false},"axis":{"values":[-414,-415,-416],"format":"d","title":null}},"color":{"field":"n","type":"nominal","legend":null}}},
{"width":106,"height":78,"data":{"name":"eE"},"mark":{"type":"line","strokeWidth":1.8,"clip":true},"encoding":{"x":{"field":"x","type":"quantitative","scale":{"domain":[0.1,15.9],"nice":false,"zero":false},"axis":null},"y":{"field":"y","type":"quantitative","scale":{"domain":[-420.04,-407.8],"nice":false,"zero":false},"axis":{"values":[-410,-414,-418],"format":"d","title":null}},"color":{"field":"n","type":"nominal","legend":null}}},

{"width":106,"height":79,"data":{"name":"aM"},"mark":{"type":"line","strokeWidth":1.8,"color":"#0072BD","clip":true,"point":{"filled":true,"size":6,"color":"#0072BD"}},"encoding":{"x":{"field":"x","type":"quantitative","scale":{"domain":[0.1,15.9],"nice":false,"zero":false},"axis":{"values":[5,15],"title":null}},"y":{"field":"y","type":"quantitative","scale":{"domain":[0.19,1.08],"nice":false,"zero":false},"axis":{"values":[0.2,0.4,0.6,0.8,1.0],"format":".1f","title":"M","titleFontSize":21,"titleX":-19.2,"titleBaseline":"alphabetic","titleAngle":270}}}},
{"width":106,"height":79,"data":{"name":"bM"},"mark":{"type":"line","strokeWidth":1.8,"color":"#4DBEEE","clip":true,"point":{"filled":true,"size":6,"color":"#4DBEEE"}},"encoding":{"x":{"field":"x","type":"quantitative","scale":{"domain":[0.1,15.9],"nice":false,"zero":false},"axis":{"values":[5,15],"title":null}},"y":{"field":"y","type":"quantitative","scale":{"domain":[0.19,1.08],"nice":false,"zero":false},"axis":{"values":[0.2,0.4,0.6,0.8,1.0],"format":".1f","title":null}}}},
{"width":106,"height":79,"data":{"name":"cM"},"mark":{"type":"line","strokeWidth":1.8,"color":"#7E2F8E","clip":true,"point":{"filled":true,"size":6,"color":"#7E2F8E"}},"encoding":{"x":{"field":"x","type":"quantitative","scale":{"domain":[0.1,15.9],"nice":false,"zero":false},"axis":{"values":[5,15],"title":null}},"y":{"field":"y","type":"quantitative","scale":{"domain":[0.355,1.05],"nice":false,"zero":false},"axis":{"values":[0.4,0.6,0.8,1.0],"format":".1f","title":null}}}},
{"width":106,"height":79,"data":{"name":"dM"},"mark":{"type":"line","strokeWidth":0.8,"clip":true,"point":{"filled":true,"size":5}},"encoding":{"x":{"field":"x","type":"quantitative","scale":{"domain":[0,3],"nice":false,"zero":false},"axis":{"values":[1,2],"title":null}},"y":{"field":"y","type":"quantitative","scale":{"domain":[0.54,1.1],"nice":false,"zero":false},"axis":{"values":[0.6,0.8,1.0],"format":".1f","title":null}},"color":{"field":"n","type":"nominal","legend":null}}},
{"width":106,"height":79,"data":{"name":"eM"},"mark":{"type":"line","strokeWidth":1.8,"clip":true},"encoding":{"x":{"field":"x","type":"quantitative","scale":{"domain":[0.1,15.9],"nice":false,"zero":false},"axis":{"values":[5,15],"title":null}},"y":{"field":"y","type":"quantitative","scale":{"domain":[0.714,1.053],"nice":false,"zero":false},"axis":{"values":[0.8,0.9,1.0],"format":".1f","title":null}},"color":{"field":"n","type":"nominal","legend":{"orient":"top-left","title":null,"offset":3,"padding":1,"labelExpr":"'n='+datum.label","labelFont":"Liberation Serif","labelFontSize":9.5,"symbolType":"stroke","symbolSize":81,"symbolStrokeWidth":1.3,"rowPadding":0,"labelOffset":3}}}},

{"width":106,"height":44,"view":{"stroke":null},"layer":[
 {"data":{"values":[{}]},"mark":{"type":"text","text":"h","fontSize":16,"baseline":"alphabetic"},"encoding":{"x":{"datum":316.8,"type":"quantitative","scale":{"domain":[0,106],"nice":false,"zero":false},"axis":null},"y":{"datum":25,"type":"quantitative","scale":{"domain":[0,44],"nice":false,"zero":false,"reverse":true},"axis":null}}},
 {"data":{"values":[{}]},"mark":{"type":"text","text":"x","fontSize":12,"baseline":"alphabetic"},"encoding":{"x":{"datum":323.8,"axis":null},"y":{"datum":31.5,"axis":null}}},
 {"data":{"values":[{}]},"mark":{"type":"rule","color":"#000000","strokeWidth":2},"encoding":{"x":{"datum":148.3,"axis":null},"x2":{"datum":486},"y":{"datum":38.7,"axis":null}}},
 {"data":{"values":[{}]},"mark":{"type":"point","shape":"M 1 0 L -1 -0.55 L -1 0.55 Z","filled":true,"color":"#000000","size":100,"opacity":1},"encoding":{"x":{"datum":489.3,"axis":null},"y":{"datum":38.7,"axis":null}}},
 {"data":{"values":[{}]},"mark":{"type":"text","text":"T","fontStyle":"italic","fontSize":14,"baseline":"alphabetic"},"encoding":{"x":{"datum":516.3,"axis":null},"y":{"datum":43.5,"axis":null}}},
 {"data":{"values":[{}]},"mark":{"type":"text","text":"↓","fontSize":14,"baseline":"alphabetic"},"encoding":{"x":{"datum":528.3,"axis":null},"y":{"datum":44,"axis":null}}},
 {"data":{"values":[{}]},"mark":{"type":"text","text":"E","fontSize":20,"angle":270,"baseline":"alphabetic","align":"center"},"encoding":{"x":{"datum":-23.4,"axis":null},"y":{"datum":74,"axis":null}}},
 {"data":{"values":[{}]},"mark":{"type":"text","text":"min","fontSize":10,"angle":270,"baseline":"alphabetic","align":"center"},"encoding":{"x":{"datum":-18.4,"axis":null},"y":{"datum":59.5,"axis":null}}},
 {"data":{"values":[{}]},"mark":{"type":"text","text":"(f)","fontWeight":"bold","fontSize":10.5,"align":"left","baseline":"top"},"encoding":{"x":{"datum":1.5,"axis":null},"y":{"datum":51.5,"axis":null}}},
 {"data":{"values":[{}]},"mark":{"type":"text","text":"(g)","fontWeight":"bold","fontSize":10.5,"align":"left","baseline":"top"},"encoding":{"x":{"datum":135.5,"axis":null},"y":{"datum":51.5,"axis":null}}},
 {"data":{"values":[{}]},"mark":{"type":"text","text":"(h)","fontWeight":"bold","fontSize":10.5,"align":"left","baseline":"top"},"encoding":{"x":{"datum":269.5,"axis":null},"y":{"datum":51.5,"axis":null}}},
 {"data":{"values":[{}]},"mark":{"type":"text","text":"(i)","font":"Liberation Sans","fontSize":10,"align":"left","baseline":"top"},"encoding":{"x":{"datum":403.5,"axis":null},"y":{"datum":51.5,"axis":null}}},
 {"data":{"values":[{}]},"mark":{"type":"text","text":"(j)","font":"Liberation Sans","fontSize":10,"align":"left","baseline":"top"},"encoding":{"x":{"datum":537.5,"axis":null},"y":{"datum":51.5,"axis":null}}},
 {"data":{"values":[{}]},"mark":{"type":"rule","color":"#f21818","strokeWidth":1},"encoding":{"x":{"datum":360.6,"axis":null},"y":{"datum":50,"axis":null},"y2":{"datum":58.5}}},
 {"data":{"values":[{}]},"mark":{"type":"point","shape":"M 0 1 L -0.55 -1 L 0.55 -1 Z","filled":true,"color":"#f21818","size":36,"opacity":1},"encoding":{"x":{"datum":360.6,"axis":null},"y":{"datum":59.5,"axis":null}}},
 {"data":{"values":[{}]},"mark":{"type":"rule","color":"#f21818","strokeWidth":1},"encoding":{"x":{"datum":462.4,"axis":null},"y":{"datum":50,"axis":null},"y2":{"datum":58.5}}},
 {"data":{"values":[{}]},"mark":{"type":"point","shape":"M 0 1 L -0.55 -1 L 0.55 -1 Z","filled":true,"color":"#f21818","size":36,"opacity":1},"encoding":{"x":{"datum":462.4,"axis":null},"y":{"datum":59.5,"axis":null}}},
 {"data":{"values":[{}]},"mark":{"type":"rule","color":"#f21818","strokeWidth":1},"encoding":{"x":{"datum":582.3,"axis":null},"y":{"datum":50,"axis":null},"y2":{"datum":58.5}}},
 {"data":{"values":[{}]},"mark":{"type":"point","shape":"M 0 1 L -0.55 -1 L 0.55 -1 Z","filled":true,"color":"#f21818","size":36,"opacity":1},"encoding":{"x":{"datum":582.3,"axis":null},"y":{"datum":59.5,"axis":null}}}
]},
{"width":106,"height":44,"view":{"stroke":null},"data":{"values":[]},"mark":"point"},
{"width":106,"height":44,"view":{"stroke":null},"data":{"values":[]},"mark":"point"},
{"width":106,"height":44,"view":{"stroke":null},"data":{"values":[]},"mark":"point"},
{"width":106,"height":44,"view":{"stroke":null},"data":{"values":[]},"mark":"point"},

{"width":106,"height":77,"data":{"name":"fE"},"mark":{"type":"line","strokeWidth":1.6,"clip":true},"encoding":{"x":{"field":"x","type":"quantitative","scale":{"domain":[0.1,15.9],"nice":false,"zero":false},"axis":null},"y":{"field":"y","type":"quantitative","scale":{"domain":[-426.4,-409.4],"nice":false,"zero":false},"axis":{"values":[-412,-416,-420,-424],"format":"d","title":null}},"color":{"field":"n","type":"nominal","legend":null}}},
{"width":106,"height":77,"data":{"name":"gE"},"mark":{"type":"line","strokeWidth":1.6,"clip":true},"encoding":{"x":{"field":"x","type":"quantitative","scale":{"domain":[0.1,15.9],"nice":false,"zero":false},"axis":null},"y":{"field":"y","type":"quantitative","scale":{"domain":[-426.4,-409.4],"nice":false,"zero":false},"axis":{"values":[-412,-416,-420,-424],"format":"d","title":null}},"color":{"field":"n","type":"nominal","legend":null}}},
{"width":106,"height":77,"data":{"name":"hE"},"mark":{"type":"line","strokeWidth":1.6,"clip":true},"encoding":{"x":{"field":"x","type":"quantitative","scale":{"domain":[0.1,15.9],"nice":false,"zero":false},"axis":null},"y":{"field":"y","type":"quantitative","scale":{"domain":[-426.3,-408.8],"nice":false,"zero":false},"axis":{"values":[-412,-416,-420,-424],"format":"d","title":null}},"color":{"field":"n","type":"nominal","legend":null}}},
{"width":106,"height":77,"data":{"name":"iE"},"mark":{"type":"line","strokeWidth":1.6,"clip":true},"encoding":{"x":{"field":"x","type":"quantitative","scale":{"domain":[0.1,15.9],"nice":false,"zero":false},"axis":null},"y":{"field":"y","type":"quantitative","scale":{"domain":[-426.6,-409.7],"nice":false,"zero":false},"axis":{"values":[-412,-416,-420,-424],"format":"d","title":null}},"color":{"field":"n","type":"nominal","legend":null}}},
{"width":106,"height":77,"data":{"name":"jE"},"mark":{"type":"line","strokeWidth":1.6,"clip":true},"encoding":{"x":{"field":"x","type":"quantitative","scale":{"domain":[0.1,15.9],"nice":false,"zero":false},"axis":null},"y":{"field":"y","type":"quantitative","scale":{"domain":[-427.2,-412.1],"nice":false,"zero":false},"axis":{"values":[-415,-420,-425],"format":"d","title":null}},"color":{"field":"n","type":"nominal","legend":null}}},

{"width":106,"height":79,"data":{"name":"fM"},"mark":{"type":"line","strokeWidth":1.6,"clip":true},"encoding":{"x":{"field":"x","type":"quantitative","scale":{"domain":[0.1,15.9],"nice":false,"zero":false},"axis":{"values":[5,15],"title":null}},"y":{"field":"y","type":"quantitative","scale":{"domain":[0.117,1.05],"nice":false,"zero":false},"axis":{"values":[0.2,0.4,0.6,0.8,1.0],"format":".1f","title":"M","titleFontSize":21,"titleX":-19.2,"titleY":33,"titleBaseline":"alphabetic","titleAngle":270}},"color":{"field":"n","type":"nominal","legend":{"orient":"top-left","title":null,"offset":3,"padding":1.5,"labelExpr":"'n='+datum.label","labelFont":"Liberation Serif","labelFontSize":11,"symbolType":"stroke","symbolSize":121,"symbolStrokeWidth":1.3,"rowPadding":0,"labelOffset":3}}}},
{"width":106,"height":79,"data":{"name":"gM"},"mark":{"type":"line","strokeWidth":1.6,"clip":true},"encoding":{"x":{"field":"x","type":"quantitative","scale":{"domain":[0.1,15.9],"nice":false,"zero":false},"axis":{"values":[5,15],"title":null}},"y":{"field":"y","type":"quantitative","scale":{"domain":[0.17,1.05],"nice":false,"zero":false},"axis":{"values":[0.2,0.4,0.6,0.8,1.0],"format":".1f","title":null}},"color":{"field":"n","type":"nominal","legend":null}}},
{"width":106,"height":79,"data":{"name":"hM"},"mark":{"type":"line","strokeWidth":1.6,"clip":true},"encoding":{"x":{"field":"x","type":"quantitative","scale":{"domain":[0.1,15.9],"nice":false,"zero":false},"axis":{"values":[5,15],"title":null}},"y":{"field":"y","type":"quantitative","scale":{"domain":[0.2,1.065],"nice":false,"zero":false},"axis":{"values":[0.2,0.4,0.6,0.8,1.0],"format":".1f","title":null}},"color":{"field":"n","type":"nominal","legend":null}}},
{"width":106,"height":79,"data":{"name":"iM"},"mark":{"type":"line","strokeWidth":1.6,"clip":true},"encoding":{"x":{"field":"x","type":"quantitative","scale":{"domain":[0.1,15.9],"nice":false,"zero":false},"axis":{"values":[5,15],"title":null}},"y":{"field":"y","type":"quantitative","scale":{"domain":[0.4,1.05],"nice":false,"zero":false},"axis":{"values":[0.4,0.6,0.8,1.0],"format":".1f","title":null}},"color":{"field":"n","type":"nominal","legend":null}}},
{"width":106,"height":79,"data":{"name":"jM"},"mark":{"type":"line","strokeWidth":1.6,"clip":true},"encoding":{"x":{"field":"x","type":"quantitative","scale":{"domain":[0.1,15.9],"nice":false,"zero":false},"axis":{"values":[5,15],"title":null}},"y":{"field":"y","type":"quantitative","scale":{"domain":[0.6,1.058],"nice":false,"zero":false},"axis":{"values":[0.6,0.8,1.0],"format":".1f","title":null}},"color":{"field":"n","type":"nominal","legend":null}}},

{"width":106,"height":35,"view":{"stroke":null},"layer":[
 {"data":{"values":[{}]},"mark":{"type":"text","text":"h","fontSize":16,"baseline":"alphabetic"},"encoding":{"x":{"datum":317.2,"type":"quantitative","scale":{"domain":[0,106],"nice":false,"zero":false},"axis":null},"y":{"datum":26.7,"type":"quantitative","scale":{"domain":[0,35],"nice":false,"zero":false,"reverse":true},"axis":null}}},
 {"data":{"values":[{}]},"mark":{"type":"text","text":"x","fontSize":12,"baseline":"alphabetic"},"encoding":{"x":{"datum":324.1,"axis":null},"y":{"datum":31.5,"axis":null}}}
]},
{"width":106,"height":35,"view":{"stroke":null},"data":{"values":[]},"mark":"point"},
{"width":106,"height":35,"view":{"stroke":null},"data":{"values":[]},"mark":"point"},
{"width":106,"height":35,"view":{"stroke":null},"data":{"values":[]},"mark":"point"},
{"width":106,"height":35,"view":{"stroke":null},"data":{"values":[]},"mark":"point"}
]
}
